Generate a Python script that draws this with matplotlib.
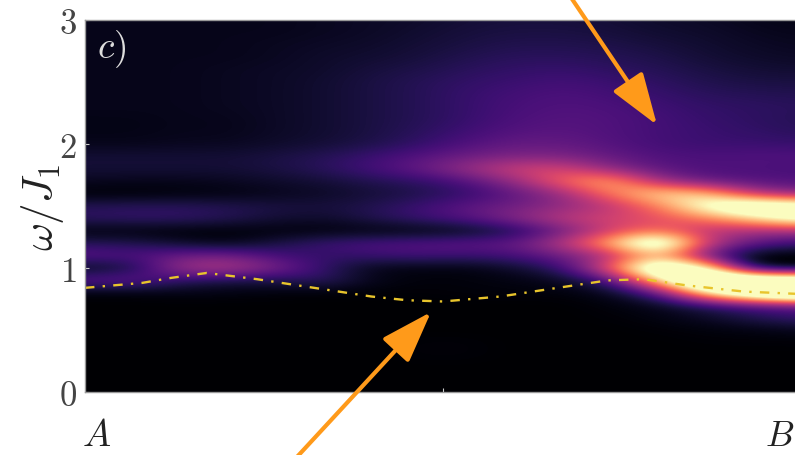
import numpy as np
import matplotlib
matplotlib.use("Agg")
import matplotlib.pyplot as plt

plt.rcParams['mathtext.fontset'] = 'cm'

# spectral weight, rows go from omega = 3.0 down to omega = 0 in steps of 0.1
omega_top = 3.0
omega_bottom = 0.0
intensity = [
    [.05, .05, .05, .05, .05, .06, .07, .08, .10, .11, .11, .10, .08, .07, .05, .04],
    [.05, .05, .05, .05, .05, .06, .07, .09, .11, .12, .12, .11, .09, .08, .06, .05],
    [.05, .05, .05, .05, .06, .07, .08, .10, .12, .14, .14, .13, .11, .09, .07, .06],
    [.05, .05, .05, .05, .06, .08, .09, .11, .14, .16, .16, .15, .13, .10, .08, .07],
    [.05, .05, .05, .06, .07, .08, .11, .13, .16, .18, .19, .17, .15, .12, .10, .09],
    [.05, .05, .05, .06, .07, .09, .12, .15, .18, .20, .22, .20, .17, .14, .12, .12],
    [.05, .05, .05, .06, .07, .09, .12, .15, .19, .22, .24, .22, .19, .16, .15, .14],
    [.05, .05, .05, .06, .07, .09, .12, .15, .19, .23, .25, .24, .21, .18, .17, .16],
    [.04, .04, .05, .05, .07, .09, .12, .15, .19, .24, .26, .25, .22, .19, .17, .15],
    [.04, .04, .05, .05, .07, .09, .12, .16, .21, .26, .27, .25, .22, .20, .18, .16],
    [.05, .05, .06, .06, .08, .10, .13, .18, .25, .30, .30, .26, .22, .20, .20, .19],
    [.10, .10, .10, .10, .12, .15, .20, .26, .32, .36, .36, .30, .25, .24, .25, .25],
    [.10, .10, .10, .10, .12, .16, .22, .30, .43, .56, .58, .40, .28, .24, .24, .23],
    [.06, .05, .05, .06, .08, .10, .14, .17, .25, .42, .68, .85, .45, .30, .26, .25],
    [.01, .01, .02, .03, .05, .07, .10, .13, .18, .28, .42, .72, .95, .90, .50, .38],
    [.15, .16, .16, .14, .12, .11, .14, .20, .28, .33, .40, .50, .72, 1.1, 1.3, 1.2],
    [.17, .18, .18, .15, .10, .08, .14, .20, .26, .38, .52, .58, .60, .72, .92, 1.15],
    [.02, .02, .01, .01, .02, .02, .02, .02, .04, .12, .32, .55, .70, .50, .45, .45],
    [.15, .14, .08, .04, .12, .20, .24, .26, .28, .30, .50, .85, 1.4, .55, .28, .20],
    [.28, .24, .32, .34, .22, .18, .20, .22, .20, .22, .32, .45, .85, .30, .00, .00],
    [.04, .10, .45, .50, .36, .18, .04, .03, .03, .08, .18, .65, 1.4, 1.1, .00, .00],
    [.28, .30, .16, .12, .12, .18, .05, .02, .02, .03, .06, .20, .90, 1.6, 1.5, 1.4],
    [.02, .02, .04, .03, .02, .01, .01, .01, .02, .02, .02, .05, .25, .95, 1.4, 1.7],
    [.00, .00, .00, .00, .00, .00, .00, .00, .00, .00, .00, .02, .05, .15, .25, .28],
    [.00, .00, .00, .00, .00, .00, .00, .00, .00, .00, .00, .01, .03, .07, .14, .20],
    [.00, .00, .00, .00, .00, .00, .00, .00, .00, .00, .00, .00, .01, .02, .03, .05],
    [.00, .00, .00, .00, .00, .00, .00, .015, .015, .00, .00, .00, .00, .01, .01, .01],
    [.00, .00, .00, .00, .00, .00, .00, .015, .015, .00, .00, .00, .00, .00, .00, .00],
    [.00, .00, .00, .00, .00, .00, .00, .00, .00, .00, .00, .00, .00, .00, .00, .00],
    [.00, .00, .00, .00, .00, .00, .00, .00, .00, .00, .00, .00, .00, .00, .00, .00],
    [.00, .00, .00, .00, .00, .00, .00, .00, .00, .00, .00, .00, .00, .00, .00, .00],
]

# lower edge of the continuum (dash-dot line)
edge_k = [0.0, 0.08, 0.12, 0.17, 0.24, 0.32, 0.40, 0.45, 0.50, 0.58, 0.66, 0.73, 0.78, 0.84, 0.92, 1.0]
edge_omega = [0.84, 0.88, 0.92, 0.96, 0.91, 0.84, 0.77, 0.74, 0.73, 0.77, 0.84, 0.90, 0.91, 0.86, 0.81, 0.79]

y_ticks = [0, 1, 2, 3]
x_ticks = [0.5]

fig = plt.figure(figsize=(7.95, 4.55), dpi=100)
# the panel runs a little past the right side of the picture
ax = fig.add_axes([85 / 795, 1 - 392 / 455, 716 / 795, 372 / 455])

# grid nodes sit on cell centres, so the extent reaches half a cell further out
ncol = len(intensity[0])
nrow = len(intensity)
dk = 0.5 / (ncol - 1)
dw = 0.5 * (omega_top - omega_bottom) / (nrow - 1)
ax.imshow(intensity, cmap='magma', vmin=0, vmax=1, aspect='auto',
          extent=[-dk, 1 + dk, omega_bottom - dw, omega_top + dw],
          interpolation='bicubic', interpolation_stage='data')
ax.plot(edge_k, edge_omega, color='#e8c42c', lw=1.7, ls=(0, (4, 3.5, 1, 3.5)))

ax.set_xlim(0, 1)
ax.set_ylim(omega_bottom, omega_top)
ax.set_xticks(x_ticks)
ax.set_xticklabels([''])
ax.set_yticks(y_ticks)
ax.set_yticklabels(['$%d$' % t for t in y_ticks], fontsize=25, color='#444444')
ax.tick_params(axis='both', direction='in', length=3, width=0.8, color='#cccccc', pad=6)
for s in ax.spines.values():
    s.set_color('#999999')
    s.set_linewidth(1.0)

fig.text(42 / 795, 1 - 208 / 455, r'$\omega/J_1$', rotation=90, fontsize=31,
         ha='center', va='center', color='#222222')
ax.text(112 / 795, 1 - 49 / 455, r'$c)$', transform=fig.transFigure, fontsize=27,
        color='#dddddd', ha='center', va='center')
fig.text(97 / 795, 1 - 436 / 455, '$A$', fontsize=27, ha='center', va='center', color='#222222')
fig.text(780 / 795, 1 - 436 / 455, '$B$', fontsize=26, ha='center', va='center', color='#222222')

# big orange arrows
for start, end in [((570, -4), (657, 125)), ((296, 458), (431, 312))]:
    ax.annotate('', xy=(end[0] / 795, 1 - end[1] / 455), xycoords='figure fraction',
                xytext=(start[0] / 795, 1 - start[1] / 455), textcoords='figure fraction',
                arrowprops=dict(arrowstyle='-|>,head_length=1.6,head_width=0.55', color='#ff9a1a',
                                lw=3.0, mutation_scale=20, shrinkA=0, shrinkB=0), annotation_clip=False)

fig.savefig('out.png', dpi=100)
